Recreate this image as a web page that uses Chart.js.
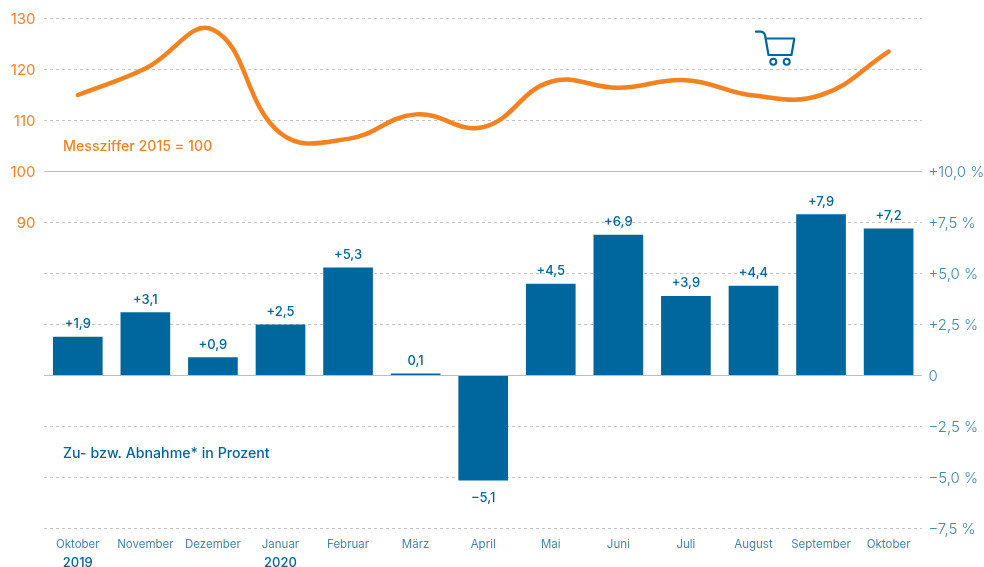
<!DOCTYPE html>
<html><head><meta charset="utf-8">
<style>html,body{margin:0;padding:0;background:#fff}canvas{display:block}</style>
<script src="https://cdn.jsdelivr.net/npm/chart.js@4"></script>
</head><body><canvas id="c" width="984" height="567"></canvas>
<script>
const months = ["Oktober","November","Dezember","Januar","Februar","März","April","Mai","Juni","Juli","August","September","Oktober"];
const yearLabels = ["2019","","","2020","","","","","","","","",""];
const indexValues = [115,120.2,127.8,107.5,106.4,111.2,108.7,117.6,116.4,117.9,114.9,115,123.5];
const changeValues = [1.9,3.1,0.9,2.5,5.3,0.1,-5.15,4.5,6.9,3.9,4.4,7.9,7.2];
const changeLabels = ["+1,9","+3,1","+0,9","+2,5","+5,3","0,1","−5,1","+4,5","+6,9","+3,9","+4,4","+7,9","+7,2"];
const orange="#F58220", blue="#00679E", tickBlue="#3F87B0";
const FONT="Inter, sans-serif";
const extras={id:'extras',afterDatasetsDraw(ch){
  const c=ch.ctx, x=ch.scales.x, bars=ch.getDatasetMeta(0).data;
  c.save();
  c.textAlign='center';c.textBaseline='middle';
  c.fillStyle=blue;c.font='500 13px '+FONT;
  bars.forEach((b,i)=>{const neg=changeValues[i]<0;c.fillText(changeLabels[i],b.x,b.y+(neg?17.5:-12.5));});
  c.font='500 13px '+FONT;
  yearLabels.forEach((t,i)=>{if(t)c.fillText(t,x.getPixelForTick(i),563);});
  c.textAlign='left';
  c.font='500 14.2px '+FONT;c.fillStyle=orange;c.fillText("Messziffer 2015 = 100",63,147);
  c.fillStyle=blue;c.fillText("Zu- bzw. Abnahme* in Prozent",63,454);
  // Warenkorb-Symbol
  c.strokeStyle=blue;c.lineWidth=2.2;c.lineJoin='round';c.lineCap='round';
  c.beginPath();c.moveTo(756,31.7);c.lineTo(761,31.7);c.quadraticCurveTo(764,32,765,35);
  c.lineTo(768.5,55);c.lineTo(791.5,55);c.lineTo(794.3,38.5);c.lineTo(766,38.5);c.stroke();
  c.lineWidth=2;
  [773.3,786.7].forEach(v=>{c.beginPath();c.arc(v,61.7,3,0,Math.PI*2);c.stroke();});
  c.restore();
}};
new Chart(document.getElementById('c'),{
  data:{labels:months,datasets:[
    {type:'bar',data:changeValues,yAxisID:'yR',backgroundColor:blue,categoryPercentage:1,barPercentage:0.735,order:2,minBarLength:1},
    {type:'line',data:indexValues,yAxisID:'yL',borderColor:orange,borderWidth:4.5,pointRadius:0,tension:0.42,borderCapStyle:'round',fill:false,order:1}
  ]},
  options:{responsive:false,animation:false,
    layout:{padding:{top:18.5,bottom:0,left:0,right:0}},
    plugins:{legend:{display:false},tooltip:{enabled:false}},
    scales:{
      x:{offset:true,grid:{display:false},border:{display:false},
        ticks:{color:tickBlue,font:{family:FONT,size:11.5},maxRotation:0,autoSkip:false,padding:1},
        afterFit(s){s.height=38.5;s.paddingLeft=0;s.paddingRight=0;}},
      yL:{position:'left',min:30,max:130,
        ticks:{stepSize:10,padding:8.5,labelOffset:1,color:orange,font:{family:FONT,size:15},callback:v=>v>=90?String(v):''},
        grid:{drawTicks:false,drawOnChartArea:false},border:{display:false},
        afterFit(s){s.width=44;s.paddingTop=0;s.paddingBottom=0;}},
      yR:{position:'right',min:-7.5,max:17.5,
        ticks:{stepSize:2.5,padding:6,labelOffset:1,color:tickBlue,font:{family:FONT,size:15,weight:'300'},
          callback:v=>{if(v>10)return '';const a=Math.abs(v).toFixed(1).replace('.',',');return v===0?'0':(v>0?'+':'−')+a+' %';}},
        grid:{drawTicks:false,lineWidth:1,
          color:c=>(c.tick&&(c.tick.value===0||c.tick.value===10))?'#BDBDBD':'#C4C4C4'},
        border:{display:false,dash:c=>(c.tick&&(c.tick.value===0||c.tick.value===10))?[]:[3,3]},
        afterFit(s){s.width=61.6;s.paddingTop=0;s.paddingBottom=0;}}
    }
  },
  plugins:[extras]
});
</script></body></html>
